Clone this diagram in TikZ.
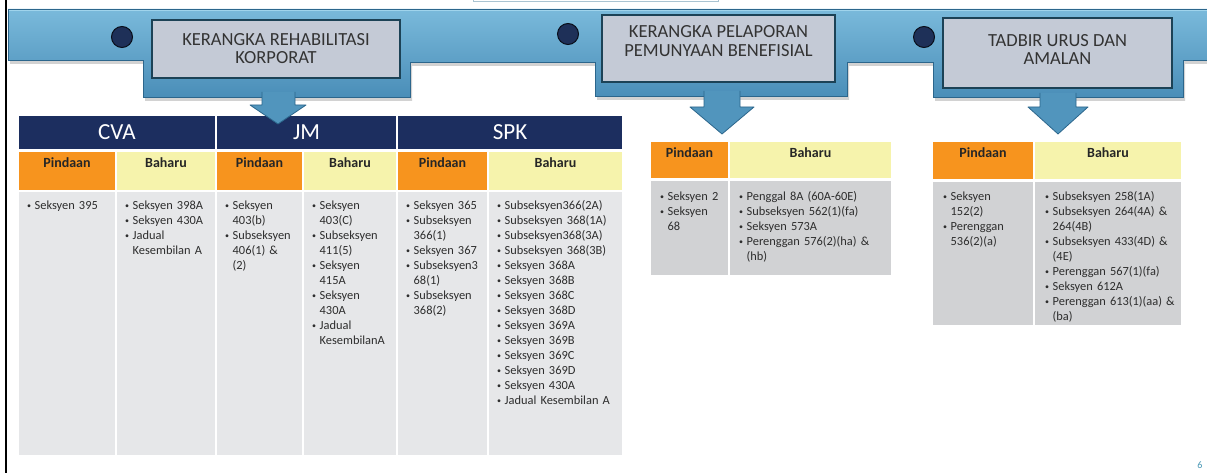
\documentclass[tikz,border=0pt]{standalone}
\usepackage{fontspec}
\setmainfont{Carlito}
\usetikzlibrary{shadows}

\definecolor{bannertop}{RGB}{122,186,219}
\definecolor{bannerbot}{RGB}{74,142,184}
\definecolor{bannerhi}{RGB}{160,212,236}
\definecolor{banneredge}{RGB}{44,102,140}
\definecolor{boxgray}{RGB}{196,202,214}
\definecolor{boxedge}{RGB}{28,66,86}
\definecolor{dotnavy}{RGB}{30,48,88}
\definecolor{hdrnavy}{RGB}{28,46,95}
\definecolor{pinorange}{RGB}{247,148,30}
\definecolor{baryellow}{RGB}{246,243,172}
\definecolor{bodylight}{RGB}{230,231,233}
\definecolor{bodydark}{RGB}{209,210,212}
\definecolor{txtgray}{RGB}{45,45,45}
\definecolor{pageteal}{RGB}{70,150,180}
\definecolor{topline}{RGB}{170,196,210}

\newcommand\bitem[1]{\par\hangindent=7.5pt\hangafter=1\noindent
  \makebox[7.5pt][l]{\raisebox{1pt}{\fontsize{8}{8}\selectfont\textbullet}}#1\par}

\begin{document}
\begin{tikzpicture}[x=1pt,y=-1pt,
  cell/.style={anchor=north west,inner sep=0pt,outer sep=0pt},
  hdr/.style={cell,fill=hdrnavy,minimum height=33,text=white,font=\fontsize{23}{23}\selectfont},
  pin/.style={cell,fill=pinorange,minimum height=38},
  bar/.style={cell,fill=baryellow,minimum height=38},
  lbl/.style={anchor=base,font=\bfseries\fontsize{14}{14}\selectfont,text=black!85},
  body/.style={cell,fill=bodylight,minimum height=263},
  txt/.style={anchor=north west,inner sep=0pt,text width=#1,align=left,font=\fontsize{12.4}{15}\selectfont,text=txtgray},
  txt/.default=200pt,
  titlebox/.style={fill=boxgray,draw=boxedge,line width=1.6pt,text=black!80,align=center,font=\fontsize{18.5}{18}\selectfont},
  dot/.style={circle,fill=dotnavy,draw=black!70!dotnavy,line width=1pt,minimum size=21,inner sep=0pt},
  banner/.style={top color=bannertop,bottom color=bannerbot,draw=banneredge,line width=0.8pt,
    drop shadow={opacity=0.35,shadow xshift=2pt,shadow yshift=-4pt}},
  arrowblk/.style={fill=bannerbot!85!bannertop,draw=banneredge,line width=0.8pt,line join=round}
]
\useasboundingbox (0,0) rectangle (1207,473);
\fill[white] (0,0) rectangle (1207,473);
\draw[line width=2pt] (6,0) -- (6,473);
\node[cell,draw=topline,line width=1pt,minimum width=245,minimum height=12,anchor=south west] (topbox) at (473,2) {};

% CVA / JM / SPK
\node[hdr,minimum width=196] (cva) at (19,116) {CVA};
\node[hdr,minimum width=179] (jm) at (217,116) {JM};
\node[hdr,minimum width=224] (spk) at (398,116) {SPK};

\node[pin,minimum width=96] (cvaP) at (19,152) {};
\node[bar,minimum width=98] (cvaB) at (117,152) {};
\node[pin,minimum width=85] (jmP) at (217,152) {};
\node[bar,minimum width=92] (jmB) at (304,152) {};
\node[pin,minimum width=89] (spkP) at (398,152) {};
\node[bar,minimum width=133] (spkB) at (489,152) {};
\foreach \c in {cvaP,jmP,spkP}
  \node[lbl] at ([yshift=-16pt]\c.north) {Pindaan};
\foreach \c in {cvaB,jmB,spkB}
  \node[lbl] at ([yshift=-16pt]\c.north) {Baharu};

\node[body,minimum width=96] (cvaPb) at (19,192) {};
\node[body,minimum width=98] (cvaBb) at (117,192) {};
\node[body,minimum width=85] (jmPb) at (217,192) {};
\node[body,minimum width=92] (jmBb) at (304,192) {};
\node[body,minimum width=89] (spkPb) at (398,192) {};
\node[body,minimum width=133] (spkBb) at (489,192) {};

\node[txt] (cvaPt) at ([xshift=8pt,yshift=-2pt]cvaPb.north west) {\bitem{Seksyen 395}};
\node[txt] (cvaBt) at ([xshift=8pt,yshift=-2pt]cvaBb.north west) {\bitem{Seksyen 398A}\bitem{Seksyen 430A}\bitem{Jadual\newline Kesembilan A}};
\node[txt] (jmPt) at ([xshift=8pt,yshift=-2pt]jmPb.north west) {\bitem{Seksyen\newline 403(b)}\bitem{Subseksyen\newline 406(1) \&\newline (2)}};
\node[txt] (jmBt) at ([xshift=8pt,yshift=-2pt]jmBb.north west) {\bitem{Seksyen\newline 403(C)}\bitem{Subseksyen\newline 411(5)}\bitem{Seksyen\newline 415A}\bitem{Seksyen\newline 430A}\bitem{Jadual\newline KesembilanA}};
\node[txt] (spkPt) at ([xshift=8pt,yshift=-2pt]spkPb.north west) {\bitem{Seksyen 365}\bitem{Subseksyen\newline 366(1)}\bitem{Seksyen 367}\bitem{Subseksyen3\newline 68(1)}\bitem{Subseksyen\newline 368(2)}};
\node[txt] (spkBt) at ([xshift=8pt,yshift=-2pt]spkBb.north west) {\bitem{Subseksyen366(2A)}\bitem{Subseksyen 368(1A)}\bitem{Subseksyen368(3A)}\bitem{Subseksyen 368(3B)}\bitem{Seksyen 368A}\bitem{Seksyen 368B}\bitem{Seksyen 368C}\bitem{Seksyen 368D}\bitem{Seksyen 369A}\bitem{Seksyen 369B}\bitem{Seksyen 369C}\bitem{Seksyen 369D}\bitem{Seksyen 430A}\bitem{Jadual Kesembilan A}};

% pelaporan pemunyaan benefisial
\node[pin,minimum width=77,minimum height=36] (kppP) at (651,142) {};
\node[bar,minimum width=161,minimum height=36] (kppB) at (730,142) {};
\node[lbl] at ([yshift=-16pt]kppP.north) {Pindaan};
\node[lbl] at ([yshift=-16pt]kppB.north) {Baharu};
\node[body,fill=bodydark,minimum width=77,minimum height=94] (kppPb) at (651,181) {};
\node[body,fill=bodydark,minimum width=161,minimum height=94] (kppBb) at (730,181) {};
\node[txt] (kppPt) at ([xshift=9pt,yshift=-4pt]kppPb.north west) {\bitem{Seksyen 2}\bitem{Seksyen\newline 68}};
\node[txt] (kppBt) at ([xshift=9pt,yshift=-4pt]kppBb.north west) {\bitem{Penggal 8A (60A-60E)}\bitem{Subseksyen 562(1)(fa)}\bitem{Seksyen 573A}\bitem{Perenggan 576(2)(ha) \&\newline (hb)}};

% tadbir urus
\node[pin,minimum width=100,minimum height=37] (tudP) at (933,142) {};
\node[bar,minimum width=146,minimum height=37] (tudB) at (1035,142) {};
\node[lbl] at ([yshift=-16pt]tudP.north) {Pindaan};
\node[lbl] at ([yshift=-16pt]tudB.north) {Baharu};
\node[body,fill=bodydark,minimum width=100,minimum height=143] (tudPb) at (933,182) {};
\node[body,fill=bodydark,minimum width=146,minimum height=143] (tudBb) at (1035,182) {};
\node[txt] (tudPt) at ([xshift=10pt,yshift=-3pt]tudPb.north west) {\bitem{Seksyen\newline 152(2)}\bitem{Perenggan\newline 536(2)(a)}};
\node[txt] (tudBt) at ([xshift=10pt,yshift=-3pt]tudBb.north west) {\bitem{Subseksyen 258(1A)}\bitem{Subseksyen 264(4A) \&\newline 264(4B)}\bitem{Subseksyen 433(4D) \&\newline (4E)}\bitem{Perenggan 567(1)(fa)}\bitem{Seksyen 612A}\bitem{Perenggan 613(1)(aa) \&\newline (ba)}};

% banner
\draw[banner] (8,9) -- (1212,9) -- (1212,60) -- (1183,60) -- (1183,97) -- (933,97) -- (933,62)
  -- (847,62) -- (847,96) -- (595,96) -- (595,62) -- (410,62) -- (410,97) -- (143,97)
  -- (143,60) -- (8,60) -- cycle;
\draw[bannerhi,line width=1.5pt] (9,10.5) -- (1212,10.5);

\filldraw[arrowblk] (262,92) -- (262,105) -- (250,105) -- (278,124) -- (306,105) -- (295,105) -- (295,92);
\filldraw[arrowblk] (704,91) -- (704,107) -- (690,107) -- (722,134) -- (754,107) -- (740,107) -- (740,91);
\filldraw[arrowblk] (1040,93) -- (1040,107) -- (1028,107) -- (1058,134) -- (1088,107) -- (1076,107) -- (1076,93);

\node[titlebox,minimum width=248,minimum height=58] (krk) at (276,49) {KERANGKA REHABILITASI\\KORPORAT};
\node[titlebox,minimum width=233,minimum height=67,text depth=15pt] (kpp) at (718.5,48.5) {KERANGKA PELAPORAN\\PEMUNYAAN BENEFISIAL};
\node[titlebox,minimum width=229,minimum height=70,text depth=7pt] (tud) at (1057.5,53) {TADBIR URUS DAN\\AMALAN};

\node[dot] (d1) at (122,37) {};
\node[dot] (d2) at (568,34) {};
\node[dot] (d3) at (924,37) {};

\node[text=pageteal,font=\fontsize{10}{10}\selectfont] (pg) at (1200,465) {6};
\end{tikzpicture}
\end{document}
